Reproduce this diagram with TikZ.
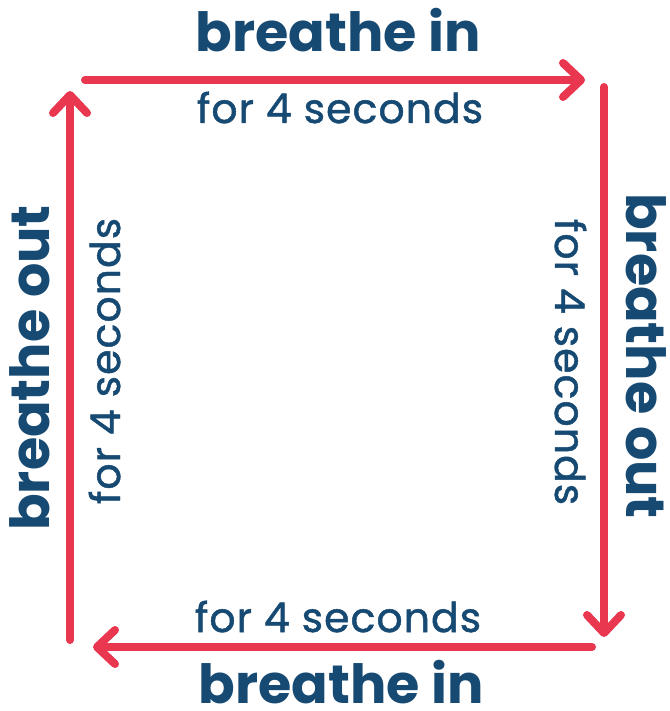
\documentclass[tikz,border=0pt]{standalone}
\usepackage{fontspec}
\setmainfont{Poppins}
\usetikzlibrary{arrows.meta}
\definecolor{breathred}{HTML}{E8374F}
\definecolor{breathblue}{HTML}{174A73}
\begin{document}
\begin{tikzpicture}[x=1pt,y=-1pt,
  flow/.style={breathred,line width=8pt,line cap=round,
    -{Straight Barb[length=18pt,width=34pt,line cap=round,line join=round]}},
  big/.style={text=breathblue,inner sep=0pt,anchor=base,font=\bfseries\fontsize{54}{54}\selectfont},
  small/.style={text=breathblue,inner sep=0pt,anchor=base,
    font=\addfontfeatures{FakeBold=1.2,LetterSpace=2.5}\fontsize{41}{41}\selectfont}]
\useasboundingbox (0,0) rectangle (669,711);
\coordinate (a1) at (85,80);
\coordinate (a2) at (585,80);
\coordinate (b1) at (604,87);
\coordinate (b2) at (604,637);
\coordinate (c1) at (592,647);
\coordinate (c2) at (93,647);
\coordinate (d1) at (70,640);
\coordinate (d2) at (70,91);
\draw[flow] (a1) -- (a2);
\draw[flow] (b1) -- (b2);
\draw[flow] (c1) -- (c2);
\draw[flow] (d1) -- (d2);
\node[big] (intop) at (338,52) {breathe in};
\node[small] (sectop) at (340,123) {for 4 seconds};
\node[big,rotate=-90] (outright) at (626,356) {breathe out};
\node[small,rotate=-90] (secright) at (555,362) {for 4 seconds};
\node[small] (secbot) at (338,632) {for 4 seconds};
\node[big] (inbot) at (341,703) {breathe in};
\node[big,rotate=90] (outleft) at (49,368) {breathe out};
\node[small,rotate=90] (secleft) at (120,361) {for 4 seconds};
\end{tikzpicture}
\end{document}
